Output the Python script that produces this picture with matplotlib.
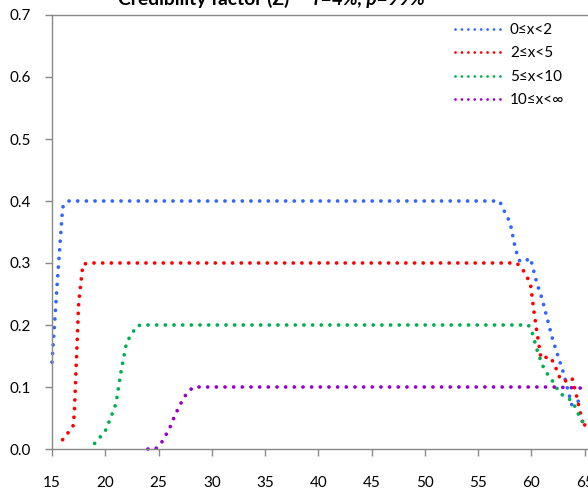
import numpy as np
import matplotlib
matplotlib.use("Agg")
import matplotlib.pyplot as plt
from matplotlib.lines import Line2D

plt.rcParams['font.family'] = ['Lato', 'DejaVu Sans']

# Readings (age, credibility factor Z)
age_a = [15, 15.5, 16, 16.5, 57, 57.5, 58, 58.5, 58.9, 59.3, 59.9, 60.5, 61, 62, 63, 63.8, 64.3, 65]
z_a = [0.14, 0.27, 0.39, 0.40, 0.40, 0.382, 0.365, 0.322, 0.303, 0.302, 0.308, 0.268, 0.242,
       0.176, 0.123, 0.07, 0.076, 0.084]

age_b = [16, 16.5, 17, 17.1, 17.5, 17.9, 18.5, 58.6, 59.1, 59.5, 59.9, 60.2, 60.5, 60.9,
         61.7, 62.1, 62.7, 63.1, 63.8, 64.2, 64.9, 65.3]
z_b = [0.015, 0.026, 0.038, 0.06, 0.235, 0.298, 0.30, 0.30, 0.292, 0.28, 0.267, 0.226, 0.19,
       0.146, 0.149, 0.139, 0.113, 0.109, 0.115, 0.088, 0.035, 0.05]

age_c = [19, 19.5, 20, 20.5, 21, 21.5, 22, 22.5, 23, 23.5, 59.7, 60, 60.5, 61, 61.5, 62,
         62.7, 63.4, 63.9, 64.6, 65]
z_c = [0.009, 0.019, 0.029, 0.05, 0.073, 0.127, 0.172, 0.186, 0.199, 0.20, 0.20, 0.192,
       0.161, 0.136, 0.121, 0.109, 0.089, 0.083, 0.075, 0.049, 0.04]

age_d = [24, 24.7, 25.2, 25.6, 26, 26.6, 27, 27.3, 27.8, 28.3, 62, 65]
z_d = [0.0, 0.0, 0.008, 0.02, 0.032, 0.057, 0.07, 0.081, 0.093, 0.10, 0.10, 0.098]

labels = ['0≤x<2', '2≤x<5', '5≤x<10', '10≤x<∞']
colors = ['#3366FF', '#FF0000', '#00B050', '#9900CC']

fig = plt.figure(figsize=(5.88, 4.9), dpi=100)
# axes run past the right edge, as in the cropped original
ax = fig.add_axes([52/588, 41/490, 586/588, 434/490])

series = [(age_a, z_a), (age_b, z_b), (age_c, z_c), (age_d, z_d)]
for (xs, ys), c in zip(series, colors):
    ax.plot(xs, ys, color=c, lw=2.7, linestyle=(0, (0.01, 2.3)),
            dash_capstyle='round', clip_on=False)

ax.set_xlim(15, 70)
ax.set_ylim(0, 0.7)
ax.set_xticks(np.arange(15, 71, 5))
ax.set_yticks(np.arange(0, 0.71, 0.1))
ax.set_yticklabels([f'{v:.1f}' for v in np.arange(0, 0.71, 0.1)])

grey = '#898989'
ax.spines['right'].set_visible(False)
for s in ['top', 'left', 'bottom']:
    ax.spines[s].set_color(grey)
    ax.spines[s].set_linewidth(1.0)
ax.tick_params(axis='x', direction='out', length=5, width=1, color=grey,
               labelsize=11, pad=14.5)
ax.tick_params(axis='y', direction='out', length=5, width=1, color=grey,
               labelsize=11, pad=10)

handles = [Line2D([], [], color=c, lw=2.0, linestyle=(0, (0.01, 2.3)),
                  dash_capstyle='round') for c in colors]
fig.legend(handles, labels, loc='upper left', frameon=False, fontsize=11,
           bbox_to_anchor=(455/588, 1 - 23/490), bbox_transform=fig.transFigure,
           borderpad=0, borderaxespad=0, handlelength=3.0, handletextpad=0.6,
           labelspacing=0.62)

# title, mostly cropped at the top of the picture
pieces = [('Credibility factor (Z)  – ', 'normal'), ('r=4%, p=99%', 'italic')]
fig.canvas.draw()
renderer = fig.canvas.get_renderer()
x = 118
for txt, style in pieces:
    t = fig.text(x/588, 1 - 5/490, txt, fontsize=13.9, fontweight='bold',
                 style=style, ha='left', va='baseline')
    x += t.get_window_extent(renderer).width

fig.savefig('out.png', dpi=100)
